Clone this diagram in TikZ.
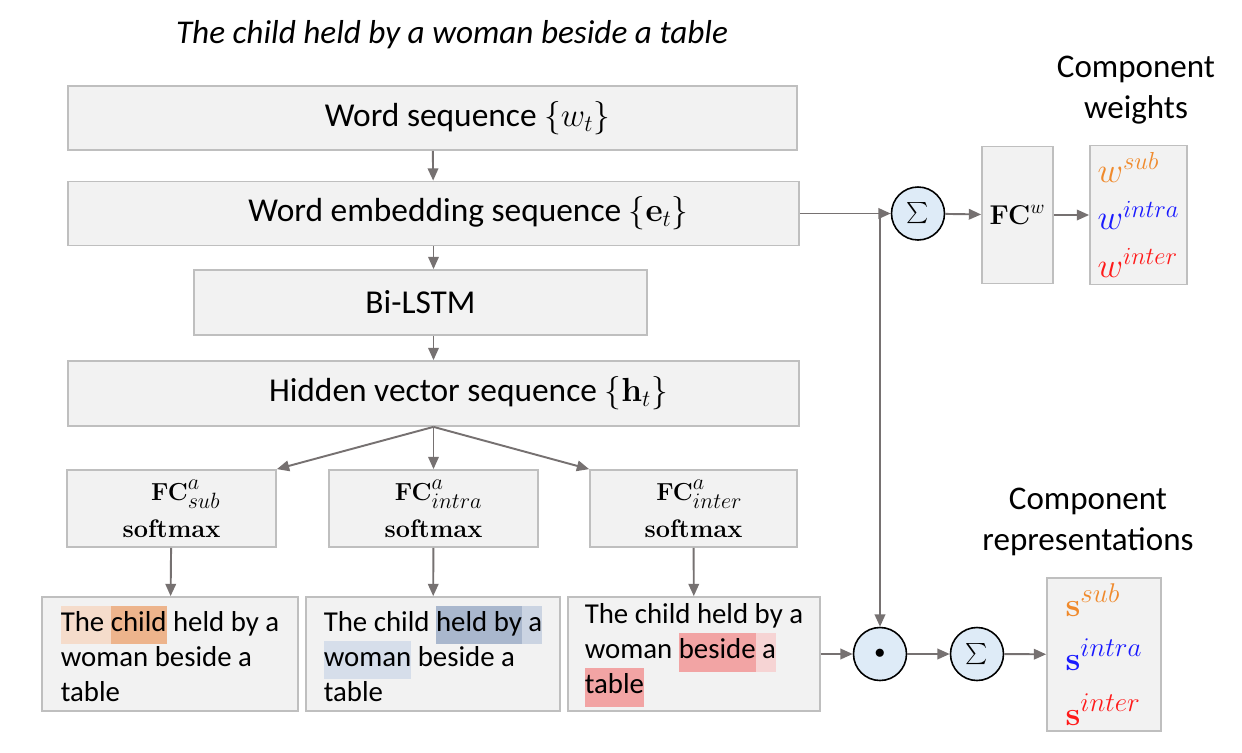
\RequirePackage{fix-cm}
\documentclass[tikz,border=0pt]{standalone}
\usepackage[no-math]{fontspec}
\usepackage{graphicx}
\setmainfont{Carlito}
\usetikzlibrary{positioning, arrows.meta}

\definecolor{boxfill}{HTML}{F2F2F2}
\definecolor{boxline}{HTML}{BFBFBF}
\definecolor{opfill}{HTML}{DEEBF7}
\definecolor{arrowgray}{HTML}{767171}
\definecolor{subcol}{HTML}{F08A2C}
\definecolor{intracol}{HTML}{1A1AFF}
\definecolor{intercol}{HTML}{FF1A1A}
% word highlight colours
\definecolor{subA}{HTML}{F5DCCB}
\definecolor{subB}{HTML}{EDB48C}
\definecolor{intraA}{HTML}{A9B7CD}
\definecolor{intraB}{HTML}{CBD4E2}
\definecolor{intraC}{HTML}{D6DEEA}
\definecolor{interA}{HTML}{F2A4A4}
\definecolor{interB}{HTML}{F6D4D4}

\newcommand{\hlword}[2]{\smash{\setlength{\fboxsep}{0pt}\colorbox{#1}{\rule[-7.5pt]{0pt}{22pt}#2}}\strut}
% FC with large scripts
\newcommand{\fclabel}[2]{{\fontsize{14}{14}\selectfont$\mathbf{FC}$}{\fontsize{18}{18}\selectfont$^{#1}_{#2}$}}
% bold s with large superscript
\newcommand{\svec}[2]{\textcolor{#1}{$\mathbf{s}${\fontsize{22}{22}\selectfont$^{#2}$}}}
% summation sign in a circle
\newcommand{\opsum}{\scalebox{1.2}{$\sum$}}

\begin{document}
\begin{tikzpicture}[
    every node/.style={font=\fontsize{19}{22}\selectfont},
    % Grey process box
    block/.style={rectangle, draw=boxline, fill=boxfill, line width=1pt,
        minimum height=1.28cm, inner sep=0pt},
    % Attention head box
    fcbox/.style={block, minimum width=4.18cm, minimum height=1.54cm,
        align=right, font=\fontsize{14.4}{21}\selectfont},
    % Sentence box with highlighted words
    sentbox/.style={block, minimum width=5.1cm, minimum height=2.28cm,
        align=left, font=\fontsize{16.4}{20}\selectfont},
    % Round operator
    op/.style={circle, draw=black, fill=opfill, line width=0.9pt,
        minimum size=1.06cm, inner sep=0pt, font=\fontsize{12}{12}\selectfont},
    % Grey arrow
    flow/.style={draw=arrowgray, line width=1.1pt, -{Triangle[length=7pt, width=6pt]}},
    % Two-line heading
    heading/.style={align=center, font=\fontsize{18.8}{23}\selectfont},
]
\useasboundingbox (0,0) rectangle (24.84,-15.06);

% ====================================================
% TITLE
% ====================================================
\node[font=\fontsize{18.9}{22}\selectfont\itshape] (title) at (9.04,-0.70)
    {The child held by a woman beside a table};

% ====================================================
% ENCODER STACK
% ====================================================
\node[block, minimum width=14.58cm] (seq) at (8.65,-2.36) {\hspace*{1.4cm}Word sequence $\{w_t\}$};
\node[block, minimum width=14.62cm] (emb) at (8.67,-4.27) {\hspace*{1.4cm}Word embedding sequence $\{\mathbf{e}_t\}$};
\node[block, minimum width=9.06cm, minimum height=1.30cm] (lstm) at (8.41,-6.05) {Bi-LSTM};
\node[block, minimum width=14.62cm, minimum height=1.30cm] (hid) at (8.67,-7.87)
    {\hspace*{1.4cm}Hidden vector sequence $\{\mathbf{h}_t\}$};

% Attention heads
\node[fcbox] (fc-sub) at (3.43,-10.17) {\fclabel{a}{sub}\\$\mathbf{softmax}$};
\node[fcbox] (fc-intra) at (8.67,-10.17) {\fclabel{a}{intra}\\$\mathbf{softmax}$};
\node[fcbox, minimum width=4.14cm] (fc-inter) at (13.87,-10.17) {\fclabel{a}{inter}\\$\mathbf{softmax}$};

% Attended words
\node[sentbox, minimum width=5.12cm] (t-sub) at (3.40,-13.08)
    {\hlword{subA}{The }\hlword{subB}{child} held by a\\woman beside a\\table};
\node[sentbox, minimum width=5.08cm] (t-intra) at (8.66,-13.08)
    {The child \hlword{intraA}{held by}\hlword{intraB}{ a}\\\hlword{intraC}{woman} beside a\\table};
\node[sentbox, minimum width=5.04cm] (t-inter) at (13.88,-13.08)
    {The child held by a\\woman \hlword{interA}{beside}\hlword{interB}{ a}\\\hlword{interA}{table}};

% Edges
\draw[flow] (seq) -- (emb);
\draw[flow] (emb) -- (emb |- lstm.north);
\draw[flow] (lstm.south -| hid) -- (hid);
\draw[flow] (hid.south) -- (fc-sub.north east);
\draw[flow] (hid.south) -- (fc-intra.north);
\draw[flow] (hid.south) -- (fc-inter.north west);
\draw[flow] (fc-sub) -- (t-sub);
\draw[flow] (fc-intra) -- (t-intra);
\draw[flow] (fc-inter) -- (t-inter);

% ====================================================
% COMPONENT WEIGHTS
% ====================================================
\node[heading] (w-head) at (22.72,-1.80) {Component\\weights};
\node[op] (sum-w) at (18.36,-4.27) {\opsum};
\node[block, minimum width=1.42cm, minimum height=2.74cm,
    font=\fontsize{15.5}{18}\selectfont] (fc-w) at (20.35,-4.30) {$\mathbf{FC}^w$};
\node[block, minimum width=1.94cm, minimum height=2.78cm,
    align=left, font=\fontsize{20}{27}\selectfont] (w-out) at (22.77,-4.30)
    {$\color{subcol}w^{sub}$\\$\color{intracol}w^{intra}$\\$\color{intercol}w^{inter}$};

\coordinate (split) at (17.60,-4.27);
\draw[flow] (emb.east) -- (sum-w);
\draw[flow] (sum-w) -- (fc-w);
\draw[flow] (fc-w) -- (w-out);

% ====================================================
% COMPONENT REPRESENTATIONS
% ====================================================
\node[heading] (s-head) at (21.76,-10.44) {Component\\representations};
\node[op] (dot) at (17.60,-13.08) {$\bullet$};
\node[op] (sum-s) at (19.54,-13.08) {\opsum};
\node[block, minimum width=2.28cm, minimum height=3.06cm,
    align=left, font=\fontsize{19}{31}\selectfont] (s-out) at (22.08,-13.09)
    {\svec{subcol}{sub}\\\svec{intracol}{intra}\\\svec{intercol}{inter}};

\draw[flow] (split) -- (dot);
\draw[flow] (t-inter) -- (dot);
\draw[flow] (dot) -- (sum-s);
\draw[flow] (sum-s) -- (s-out);

\end{tikzpicture}
\end{document}
